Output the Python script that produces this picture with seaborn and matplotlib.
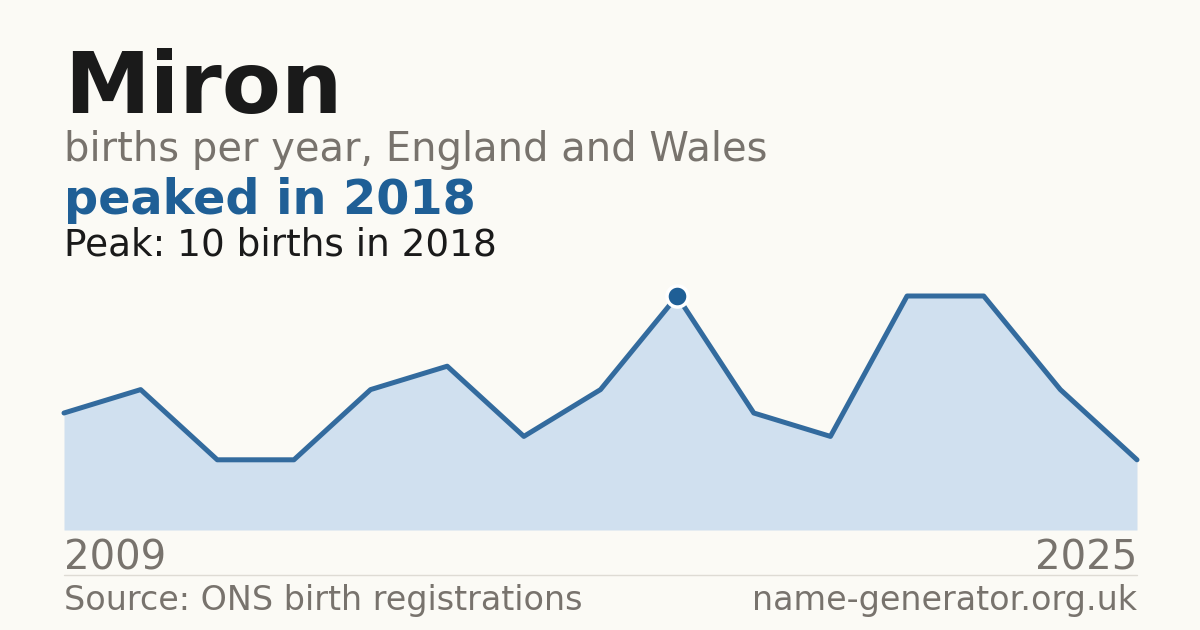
import numpy as np
import pandas as pd
import matplotlib
matplotlib.use("Agg")
import matplotlib.pyplot as plt
import seaborn as sns

# births per year, 15 points spanning 2009..2025
idx = list(range(15))
births = [5, 6, 3, 3, 6, 7, 4, 6, 10, 5, 4, 10, 10, 6, 3]
peak_i = 8
first_year = "2009"
last_year = "2025"

bg = "#fbfaf5"
blue = "#336b9e"
fill = "#d0e0ef"
grey = "#78736d"

df = pd.DataFrame({"i": idx, "births": births})

sns.set_theme(style="white")
plt.rcParams['font.family'] = ['DejaVu Sans']

fig = plt.figure(figsize=(12, 6.3), dpi=100, facecolor=bg)

# axes placed in pixels: x 64..1137, y 296..530
ax = fig.add_axes([64/1200, 100/630, 1073/1200, 234/630], facecolor=bg)
ax.fill_between(df["i"], df["births"], 0, color=fill, lw=0)
sns.lineplot(data=df, x="i", y="births", ax=ax, color=blue, lw=3.6, clip_on=False)
ax.scatter([idx[peak_i]], [births[peak_i]], s=230, color="#1f5f96",
           edgecolor="white", linewidth=2.5, zorder=5, clip_on=False)
ax.set_xlim(0, len(idx) - 1)
ax.set_ylim(0, 10)
ax.axis("off")

# texts
fig.text(64/1200, 1 - 113/630, "Miron", fontsize=62, fontweight="bold", color="#1a1a1a")
fig.text(64/1200, 1 - 161/630, "births per year, England and Wales", fontsize=28.8, color=grey)
fig.text(64/1200, 1 - 214/630, "peaked in 2018", fontsize=34.4, fontweight="bold", color="#1f5f96")
fig.text(64/1200, 1 - 255/630, "Peak: 10 births in 2018", fontsize=26.9, color="#1a1a1a")

fig.text(64/1200, 1 - 570/630, first_year, fontsize=29, color=grey)
fig.text(1137/1200, 1 - 570/630, last_year, fontsize=29, color=grey, ha="right")

fig.add_artist(plt.Line2D([64/1200, 1137/1200], [1 - 575/630, 1 - 575/630],
                          color="#dedbd4", lw=1))

fig.text(64/1200, 1 - 610/630, "Source: ONS birth registrations", fontsize=24, color=grey)
fig.text(1137/1200, 1 - 610/630, "name-generator.org.uk", fontsize=24, color=grey, ha="right")

fig.savefig("out.png", dpi=100, facecolor=bg)
